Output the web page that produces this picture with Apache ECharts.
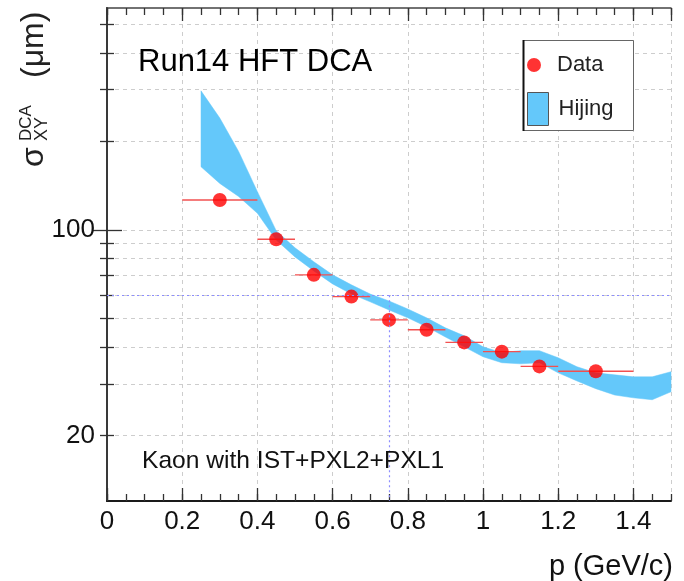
<!DOCTYPE html>
<html><head><meta charset="utf-8">
<script src="https://cdn.jsdelivr.net/npm/echarts@6/dist/echarts.min.js"></script>
<style>html,body{margin:0;padding:0;background:#fff}#c{width:684px;height:581px}</style>
</head><body><div id="c"></div>
<script>
// ---- data ----
const dataP      = [0.30, 0.45, 0.55, 0.65, 0.75, 0.85, 0.95, 1.05, 1.15, 1.30];
const dataSigma  = [126.4, 93.0, 70.4, 59.4, 49.5, 45.8, 41.5, 38.6, 34.4, 33.1];
const binLow     = [0.20, 0.40, 0.50, 0.60, 0.70, 0.80, 0.90, 1.00, 1.10, 1.20];
const binHigh    = [0.40, 0.50, 0.60, 0.70, 0.80, 0.90, 1.00, 1.10, 1.20, 1.40];
const hijingP     = [0.25,0.30,0.35,0.40,0.45,0.50,0.55,0.60,0.65,0.70,0.75,0.80,0.85,0.90,0.95,1.00,1.05,1.10,1.15,1.20,1.25,1.30,1.35,1.40,1.45,1.50];
const hijingUpper = [297,240,185,135,99.5,87,78,70.4,65.1,60.6,57.4,53.9,50.3,46.5,43.7,40.1,38.3,38.9,38.9,36.8,34.3,32.7,32.2,31.7,31.7,33.0];
const hijingLower = [164,144,130,114,92.5,81,72.6,65.6,60.6,57.0,53.5,50.3,46.9,43.3,40.1,37.1,35.4,35.1,35.4,32.7,30.7,28.9,27.5,26.9,26.5,28.2];
const yMinorTicks = [20,30,40,50,60,70,80,90,200,300,400,500];
const yMajorTicks = [100];
const yTickLabels = [20,100];
const refLineY = 60;
const refLineX = 0.75;

const X_MIN = 0, X_MAX = 1.5, Y_MIN = 12, Y_MAX = 568;
const bandColor = '#64c8fa';
const refColor = '#8c8cff';
const tickFont = "'Liberation Sans',Arial,sans-serif";
const sansFont = "'Liberation Sans',Arial,sans-serif";
function gridStyle(){ return {color:'#cdcdcd', width:1, type:[4,4]}; }

const chart = echarts.init(document.getElementById('c'), null, {renderer:'canvas'});

function xAxisDef(pos, interval, tickLen, main) {
  return {
    type:'value', position:pos, min:X_MIN, max:X_MAX, interval:interval,
    axisLine:{show:main, lineStyle:{color: pos==='bottom' ? '#1a1a1a' : '#444', width: pos==='bottom' ? 2 : 1.5}},
    axisTick:{show:true, inside:true, length:tickLen, lineStyle:{color:'#333', width:1.3}},
    axisLabel:{show: main && pos==='bottom', fontFamily:tickFont, fontSize:26, color:'#111', margin:8, showMaxLabel:false},
    splitLine:{show: main, lineStyle:gridStyle()},
    minorTick:{show:false}
  };
}
function yAxisDef(pos, ticks, tickLen, main, labels) {
  return {
    type:'log', logBase:10, position:pos, min:Y_MIN, max:Y_MAX,
    axisLine:{show:main, lineStyle:{color: pos==='left' ? '#1a1a1a' : '#444', width: pos==='left' ? 2 : 1.5}},
    axisTick:{show:true, inside:true, length:tickLen, customValues:ticks, lineStyle:{color:'#333', width:1.3}},
    axisLabel:{show: !!labels, customValues: labels || undefined, fontFamily:tickFont, fontSize:26, color:'#111', margin:12},
    splitLine:{show: pos==='left', lineStyle:gridStyle()}
  };
}

const option = {
  animation:false,
  backgroundColor:'#fff',
  grid:{left:107, right:13, top:8, bottom:80, containLabel:false},
  xAxis:[
    Object.assign(xAxisDef('bottom', 0.2, 13, true), {
      name:'p (GeV/c)', nameLocation:'end', nameGap:2,
      nameTextStyle:{fontFamily:sansFont, fontSize:29, color:'#111', align:'right', verticalAlign:'top', padding:[51,0,0,0]}
    }),
    xAxisDef('bottom', 0.05, 7, false),
    xAxisDef('top', 0.2, 13, true),
    xAxisDef('top', 0.05, 7, false)
  ],
  yAxis:[
    yAxisDef('left', yMinorTicks, 7, true, yTickLabels),
    yAxisDef('left', yMajorTicks, 15, false, null),
    yAxisDef('right', yMinorTicks, 7, true, null),
    yAxisDef('right', yMajorTicks, 15, false, null)
  ],
  legend:[
    {data:[{name:'Data', icon:'circle'}], left:527, top:54, padding:0, itemWidth:26, itemHeight:14, selectedMode:false,
     textStyle:{fontFamily:sansFont, fontSize:22, color:'#222', padding:[0,0,0,5]}},
    {data:[{name:'Hijing', icon:'rect', itemStyle:{borderColor:'#555', borderWidth:1}}], left:527, top:92, padding:0, itemWidth:21, itemHeight:33, selectedMode:false,
     textStyle:{fontFamily:sansFont, fontSize:22, color:'#222', padding:[0,0,0,5]}}
  ],
  graphic:[
    {type:'rect', z:3, shape:{x:523.5, y:40.5, width:110, height:90}, style:{fill:'#fff', stroke:'#666', lineWidth:1}},
    {type:'line', z:3, shape:{x1:523.5, y1:40, x2:523.5, y2:131}, style:{stroke:'#111', lineWidth:2}},
    {type:'text', z:6, x:138, y:62, style:{text:'Run14 HFT DCA', font:"31px "+sansFont, fill:'#000', align:'left', verticalAlign:'middle'}},
    {type:'text', z:6, x:142, y:461, style:{text:'Kaon with IST+PXL2+PXL1', font:"24.6px "+sansFont, fill:'#111', align:'left', verticalAlign:'middle'}},
    {type:'text', z:6, x:34, y:167, rotation:Math.PI/2, style:{text:'σ', font:"32px "+sansFont, fill:'#222', align:'left', verticalAlign:'middle'}},
    {type:'text', z:6, x:26, y:141, rotation:Math.PI/2, style:{text:'DCA', font:"17px "+sansFont, fill:'#222', align:'left', verticalAlign:'middle'}},
    {type:'text', z:6, x:42, y:141, rotation:Math.PI/2, style:{text:'XY', font:"18px "+sansFont, fill:'#222', align:'left', verticalAlign:'middle'}},
    {type:'text', z:6, x:34.5, y:78, rotation:Math.PI/2, style:{text:'(μm)', font:"32px "+sansFont, fill:'#222', align:'left', verticalAlign:'middle'}}
  ],
  series:[
    {
      name:'Hijing', type:'custom', z:2,
      itemStyle:{color:bandColor},
      encode:{x:0, y:[1,2]},
      data: hijingP.map((p,i)=>[p, hijingUpper[i], hijingLower[i]]),
      renderItem:function(params, api){
        if (params.dataIndex !== 0) return null;
        const pts = [];
        for (let i=0;i<hijingP.length;i++) pts.push(api.coord([hijingP[i], hijingUpper[i]]));
        for (let i=hijingP.length-1;i>=0;i--) pts.push(api.coord([hijingP[i], hijingLower[i]]));
        return {type:'polygon', shape:{points:pts}, style:{fill:bandColor, stroke:bandColor, lineWidth:0.5}};
      }
    },
    {
      name:'ref', type:'custom', z:5, silent:true,
      encode:{x:0, y:1},
      data:[[refLineX, refLineY]],
      renderItem:function(params, api){
        const x = api.value(0), y = api.value(1);
        const h1 = api.coord([X_MIN, y]), h2 = api.coord([X_MAX, y]);
        const v1 = api.coord([x, y]), v2 = api.coord([x, Y_MIN]);
        const st = {stroke:refColor, lineWidth:1.2, lineDash:[2,3], fill:null};
        return {type:'group', children:[
          {type:'line', shape:{x1:h1[0], y1:Math.round(h1[1])+0.5, x2:h2[0], y2:Math.round(h2[1])+0.5}, style:st},
          {type:'line', shape:{x1:Math.round(v1[0])+0.5, y1:v1[1], x2:Math.round(v2[0])+0.5, y2:v2[1]}, style:st}
        ]};
      }
    },
    {
      name:'err', type:'custom', z:3,
      encode:{x:[0,1], y:2},
      data: dataP.map((p,i)=>[binLow[i], binHigh[i], dataSigma[i]]),
      renderItem:function(params, api){
        const a = api.coord([api.value(0), api.value(2)]);
        const b = api.coord([api.value(1), api.value(2)]);
        return {type:'line', shape:{x1:a[0], y1:a[1], x2:b[0], y2:b[1]}, style:{stroke:'#f25050', lineWidth:1.4}};
      }
    },
    {
      name:'Data', type:'scatter', z:4,
      symbol:'circle', symbolSize:14,
      itemStyle:{color:'#ff0000'},
      data: dataP.map((p,i)=>[p, dataSigma[i]])
    }
  ]
};
chart.setOption(option);
</script>
</body></html>
